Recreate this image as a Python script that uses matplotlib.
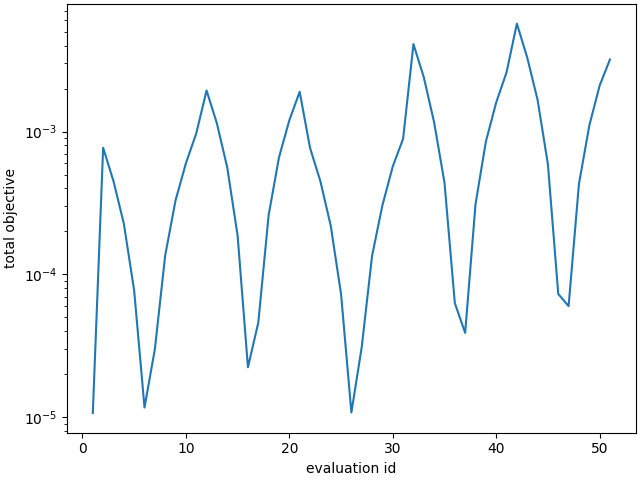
import numpy as np
import matplotlib
matplotlib.use('Agg')
import matplotlib.pyplot as plt

# evaluation ids and objective values
eval_id = np.arange(1, 52)
objective = [
    1.07e-5, 7.7e-4, 4.5e-4, 2.27e-4, 7.7e-5, 1.17e-5, 3.0e-5, 1.36e-4, 3.3e-4, 6.0e-4,
    9.7e-4, 1.94e-3, 1.14e-3, 5.6e-4, 1.87e-4, 2.24e-5, 4.6e-5, 2.6e-4, 6.6e-4, 1.2e-3,
    1.9e-3, 7.7e-4, 4.5e-4, 2.2e-4, 7.3e-5, 1.08e-5, 3.1e-5, 1.35e-4, 3.05e-4, 5.7e-4,
    8.9e-4, 4.1e-3, 2.4e-3, 1.16e-3, 4.4e-4, 6.3e-5, 3.9e-5, 3.1e-4, 8.5e-4, 1.6e-3,
    2.6e-3, 5.7e-3, 3.3e-3, 1.67e-3, 5.9e-4, 7.3e-5, 6.0e-5, 4.3e-4, 1.1e-3, 2.1e-3,
    3.2e-3,
]

fig, ax = plt.subplots(figsize=(6.4, 4.8), dpi=100, layout='constrained')
ax.plot(eval_id, objective)
ax.set_yscale('log')
ax.set_xlabel('evaluation id')
ax.set_ylabel('total objective')
fig.savefig('out.png')
